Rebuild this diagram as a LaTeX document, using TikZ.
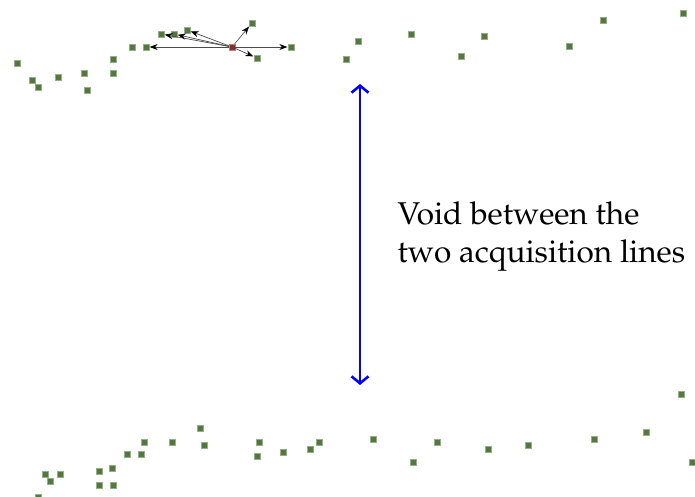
\documentclass[tikz,border=0pt]{standalone}
\usepackage[T1]{fontenc}
\usepackage{mathpazo}
\usetikzlibrary{arrows.meta}
\definecolor{sqgreen}{RGB}{82,120,62}
\definecolor{sqred}{RGB}{140,45,45}
\tikzset{
  sample/.style={fill=sqgreen, draw=sqgreen!60, line width=0.3pt, minimum size=6pt, inner sep=0pt},
  shot/.style={sample, fill=sqred, draw=sqred!60},
  ray/.style={draw=gray!60!black, line width=0.7pt, -{Stealth[black,length=8pt,width=6pt]}, shorten >=0.5pt},
  gap/.style={draw=blue, line width=2.6pt, {Straight Barb[length=7pt,width=17pt]}-{Straight Barb[length=7pt,width=17pt]}}
}

\begin{document}
\begin{tikzpicture}[x=1pt,y=-1pt]
\useasboundingbox (0,0) rectangle (695,497);
%%% upper line %%%%
%% labels
\node[sample] (u1) at (17,63) {};
\node[sample] (u2) at (32,80) {};
\node[sample] (u3) at (38,87) {};
\node[sample] (u4) at (58,77) {};
\node[sample] (u5) at (84,73) {};
\node[sample] (u6) at (87,90) {};
\node[sample] (u7) at (113,59) {};
\node[sample] (u8) at (113,73) {};
\node[sample] (u9) at (132,47) {};
\node[sample] (u10) at (146,47) {};
\node[sample] (u11) at (161,34) {};
\node[sample] (u12) at (174,34) {};
\node[sample] (u13) at (187,30) {};
\node[shot] (src) at (232,47) {};
\node[sample] (u14) at (252,23) {};
\node[sample] (u15) at (257,58) {};
\node[sample] (u16) at (291,47) {};
\node[sample] (u17) at (346,59) {};
\node[sample] (u18) at (358,41) {};
\node[sample] (u19) at (411,34) {};
\node[sample] (u20) at (461,56) {};
\node[sample] (u21) at (484,36) {};
\node[sample] (u22) at (569,46) {};
\node[sample] (u23) at (603,20) {};
\node[sample] (u24) at (683,13) {};

%% edges
\draw[ray] (src) to (u10);
\draw[ray] (src) to (u11);
\draw[ray] (src) to (u12);
\draw[ray] (src) to (u13);
\draw[ray] (src) to (u14);
\draw[ray] (src) to (u15);
\draw[ray] (src) to (u16);

%%% lower line %%%%
%% labels
\node[sample] (l1) at (38,497) {};
\node[sample] (l2) at (45,474) {};
\node[sample] (l3) at (50,481) {};
\node[sample] (l4) at (60,474) {};
\node[sample] (l5) at (99,471) {};
\node[sample] (l6) at (112,468) {};
\node[sample] (l7) at (99,485) {};
\node[sample] (l8) at (113,485) {};
\node[sample] (l9) at (127,454) {};
\node[sample] (l10) at (141,454) {};
\node[sample] (l11) at (144,442) {};
\node[sample] (l12) at (172,442) {};
\node[sample] (l13) at (200,428) {};
\node[sample] (l14) at (204,445) {};
\node[sample] (l15) at (259,442) {};
\node[sample] (l16) at (257,456) {};
\node[sample] (l17) at (283,452) {};
\node[sample] (l18) at (310,449) {};
\node[sample] (l19) at (319,442) {};
\node[sample] (l20) at (373,439) {};
\node[sample] (l21) at (413,462) {};
\node[sample] (l22) at (437,442) {};
\node[sample] (l23) at (488,449) {};
\node[sample] (l24) at (528,445) {};
\node[sample] (l25) at (594,439) {};
\node[sample] (l26) at (646,432) {};
\node[sample] (l27) at (681,394) {};
\node[sample] (l28) at (692,462) {};

%%% void %%%%
\coordinate (voidtop) at (360,84);
\coordinate (voidbot) at (360,385);
\draw[gap] (voidtop) to (voidbot);
\node[anchor=west, align=left, font=\fontsize{31.5}{38}\selectfont] (note) at (394,237)
  {Void between the\\two acquisition lines};
\end{tikzpicture}
\end{document}
